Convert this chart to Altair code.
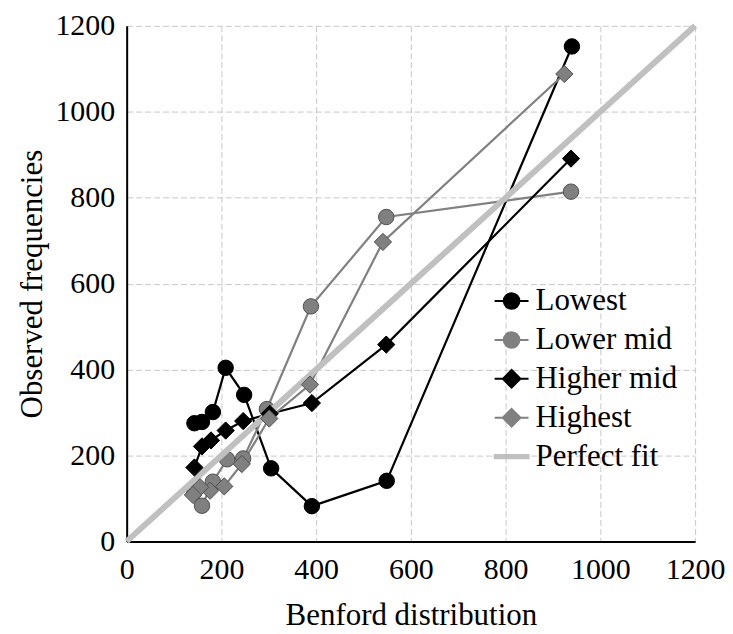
import altair as alt
import pandas as pd

SERIES = ["Lowest", "Lower mid", "Higher mid", "Highest"]
LEGEND_NAMES = ["Lowest", "Lower mid", "Higher mid", "Highest", "Perfect fit"]
DIGITS = [1, 2, 3, 4, 5, 6, 7, 8, 9]

lowest_x = [940, 549, 391, 305, 248, 209, 182, 159, 143]
lowest_y = [1152, 141, 82, 170, 341, 404, 301, 278, 275]
lowermid_x = [938, 548, 389, 296, 246, 212, 182, 159, 143]
lowermid_y = [814, 755, 547, 308, 193, 191, 139, 83, 115]
highermid_x = [938, 548, 391, 302, 246, 209, 178, 159, 143]
highermid_y = [891, 458, 322, 297, 280, 258, 235, 221, 172]
highest_x = [924, 541, 387, 301, 243, 206, 176, 155, 140]
highest_y = [1088, 697, 365, 286, 180, 128, 118, 126, 108]

fit_x = [0, 1200]
fit_y = [0, 1200]

AXIS_VALUES = [0, 200, 400, 600, 800, 1000, 1200]

rows = []
for name, xs, ys in [("Lowest", lowest_x, lowest_y),
                     ("Lower mid", lowermid_x, lowermid_y),
                     ("Higher mid", highermid_x, highermid_y),
                     ("Highest", highest_x, highest_y)]:
    for d, xv, yv in zip(DIGITS, xs, ys):
        rows.append({"series": name, "digit": d, "x": xv, "y": yv})
df = pd.DataFrame(rows)
fit_df = pd.DataFrame({"x": fit_x, "y": fit_y})

FONT = "Liberation Serif"
BLACK = "#000000"
GREY = "#808080"
FITC = "#c0c0c0"

xscale = alt.Scale(domain=[0, 1200], nice=False)
yscale = alt.Scale(domain=[0, 1200], nice=False)

def xenc():
    return alt.X("x:Q", scale=xscale,
                 axis=alt.Axis(values=AXIS_VALUES, title="Benford distribution", format="d",
                               labelFont=FONT, titleFont=FONT,
                               labelFlush=False, labelOverlap=False,
                               labelPadding=13, titlePadding=16))

def yenc():
    return alt.Y("y:Q", scale=yscale,
                 axis=alt.Axis(values=AXIS_VALUES, title="Observed frequencies", format="d",
                               labelFont=FONT, titleFont=FONT,
                               labelOverlap=False, labelPadding=12, titlePadding=6))

base = alt.Chart(df)

lines = base.mark_line(strokeWidth=2.2).encode(
    x=xenc(), y=yenc(),
    color=alt.Color("series:N", scale=alt.Scale(domain=SERIES, range=[BLACK, GREY, BLACK, GREY]), legend=None),
    order=alt.Order("digit:Q"),
)

fill_sc = alt.Scale(domain=SERIES, range=[BLACK, GREY, BLACK, GREY])
stroke_sc = alt.Scale(domain=SERIES, range=[BLACK, "#505050", BLACK, "#505050"])

circles = base.transform_filter(
    alt.FieldOneOfPredicate(field="series", oneOf=["Lowest", "Lower mid"])
).mark_point(shape="circle", filled=True, size=240, opacity=1, strokeWidth=1).encode(
    x=xenc(), y=yenc(),
    fill=alt.Fill("series:N", scale=fill_sc, legend=None),
    stroke=alt.Stroke("series:N", scale=stroke_sc, legend=None),
)

diamonds = base.transform_filter(
    alt.FieldOneOfPredicate(field="series", oneOf=["Higher mid", "Highest"])
).mark_point(shape="diamond", filled=True, size=300, opacity=1, strokeWidth=1).encode(
    x=xenc(), y=yenc(),
    fill=alt.Fill("series:N", scale=fill_sc, legend=None),
    stroke=alt.Stroke("series:N", scale=stroke_sc, legend=None),
)

fit = alt.Chart(fit_df).mark_line(color=FITC, strokeWidth=6).encode(x=xenc(), y=yenc())

CIRC = "M-1,0L-0.46,0M0.46,0L1,0M-0.46,0A0.46,0.46,0,1,1,0.46,0A0.46,0.46,0,1,1,-0.46,0Z"
DIAM = "M-1,0L-0.52,0M0.52,0L1,0M-0.52,0L0,-0.52L0.52,0L0,0.52Z"
FITP = "M-1,-0.1L1,-0.1L1,0.1L-1,0.1Z"

leg = alt.Legend(title=None, orient="none", legendX=368, legendY=258, padding=0,
                 rowPadding=6, symbolSize=1156, symbolStrokeWidth=2, labelOffset=6,
                 labelFont=FONT, labelFontSize=31, labelColor="black", labelLimit=400)

legend_layer = base.transform_filter("false").mark_point(filled=True, opacity=1).encode(
    x=xenc(), y=yenc(),
    shape=alt.Shape("series:N", scale=alt.Scale(domain=LEGEND_NAMES, range=[CIRC, CIRC, DIAM, DIAM, FITP]), legend=leg),
    fill=alt.Fill("series:N", scale=alt.Scale(domain=LEGEND_NAMES, range=[BLACK, GREY, BLACK, GREY, FITC]), legend=leg),
    stroke=alt.Stroke("series:N", scale=alt.Scale(domain=LEGEND_NAMES, range=[BLACK, GREY, BLACK, GREY, FITC]), legend=leg),
)

chart = alt.layer(lines, circles, fit, diamonds, legend_layer).resolve_scale(
    shape="independent", fill="independent", stroke="independent", color="independent"
).properties(
    width=570, height=517,
    autosize=alt.AutoSizeParams(type="none"),
    padding={"left": 119, "top": 17, "right": 30, "bottom": 92},
    background="white",
).configure(font=FONT).configure_view(strokeWidth=0).configure_axis(
    labelFont=FONT, labelFontSize=30, labelColor="black",
    titleFont=FONT, titleFontSize=31, titleFontWeight="normal", titleColor="black",
    ticks=False, domainColor="black", domainWidth=2,
    grid=True, gridColor="#c8c8c8", gridDash=[6, 3], gridWidth=1,
).configure_legend(labelFont=FONT)

chart.save("out.html", embed_options={"renderer": "svg", "actions": False})
